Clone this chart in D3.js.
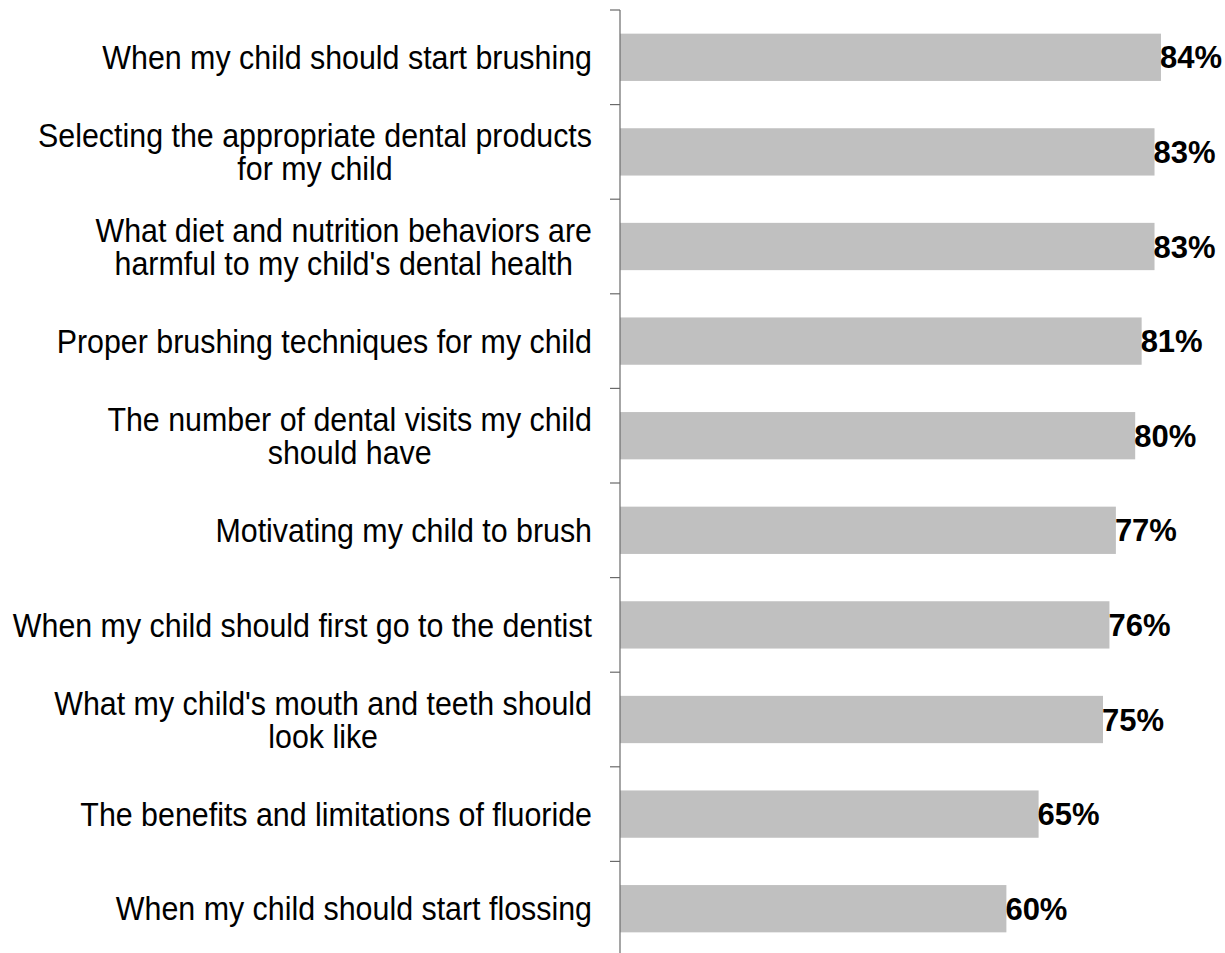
<!DOCTYPE html>
<html>
<head>
<meta charset="utf-8">
<script src="https://cdn.jsdelivr.net/npm/d3@7"></script>
<style>
  html, body { margin: 0; padding: 0; background: #ffffff; }
  svg { display: block; }
</style>
</head>
<body>
<svg id="chart" width="1225" height="953"></svg>
<script>
// Topics parents want guidance on, with share of respondents
const categories = [
  "When my child should start brushing",
  "Selecting the appropriate dental products|for my child",
  "What diet and nutrition behaviors are|harmful to my child's dental health",
  "Proper brushing techniques for my child",
  "The number of dental visits my child|should have",
  "Motivating my child to brush",
  "When my child should first go to the dentist",
  "What my child's mouth and teeth should|look like",
  "The benefits and limitations of fluoride",
  "When my child should start flossing"
];
const values = [84, 83, 83, 81, 80, 77, 76, 75, 65, 60];

const width = 1225, height = 953;
const axisX = 620;
const svg = d3.select("#chart");

const x = d3.scaleLinear().domain([0, 100]).range([axisX, axisX + 644]);
const y = d3.scaleBand()
  .domain(d3.range(categories.length))
  .range([10, 956])
  .paddingInner(0.5)
  .paddingOuter(0.25);

// Bars
svg.append("g").selectAll("rect")
  .data(values)
  .join("rect")
  .attr("x", x(0))
  .attr("y", (d, i) => y(i))
  .attr("width", d => x(d) - x(0))
  .attr("height", y.bandwidth())
  .attr("fill", "#c0c0c0");

// Vertical category axis with ticks at band boundaries
const step = y.step();
const bandStart = y.range()[0];
const axisG = svg.append("g").attr("stroke", "#6a6a6a").attr("stroke-width", 1.2);
axisG.append("line")
  .attr("x1", axisX).attr("x2", axisX)
  .attr("y1", bandStart).attr("y2", height);
axisG.selectAll("line.tick")
  .data(d3.range(categories.length + 1))
  .join("line")
  .attr("class", "tick")
  .attr("x1", axisX - 10).attr("x2", axisX)
  .attr("y1", i => bandStart + i * step)
  .attr("y2", i => bandStart + i * step);

// Category labels: right-aligned blocks with centred lines, slightly condensed
const labelRight = 592;
const lineH = 33;
const squeeze = 0.935;
categories.forEach((cat, i) => {
  const lines = cat.split("|");
  const cy = y(i) + y.bandwidth() / 2;
  const g = svg.append("g")
    .attr("transform", `translate(${labelRight},${cy}) scale(${squeeze},1)`)
    .attr("font-family", "'Liberation Sans', Arial, sans-serif")
    .attr("font-size", 32.5)
    .attr("fill", "#000");
  const texts = lines.map((ln, k) => g.append("text")
    .attr("y", (k - (lines.length - 1) / 2) * lineH)
    .attr("dy", "0.36em")
    .text(ln));
  const maxW = d3.max(texts, t => t.node().getComputedTextLength());
  texts.forEach(t => t.attr("x", -maxW / 2).attr("text-anchor", "middle"));
});

// Value labels
svg.append("g")
  .attr("font-family", "'Liberation Sans', Arial, sans-serif")
  .attr("font-size", 31)
  .attr("font-weight", "bold")
  .attr("fill", "#000")
  .selectAll("text")
  .data(values)
  .join("text")
  .attr("x", d => x(d) - 1)
  .attr("y", (d, i) => y(i) + y.bandwidth() / 2 + 11)
  .text(d => d + "%");
</script>
</body>
</html>
